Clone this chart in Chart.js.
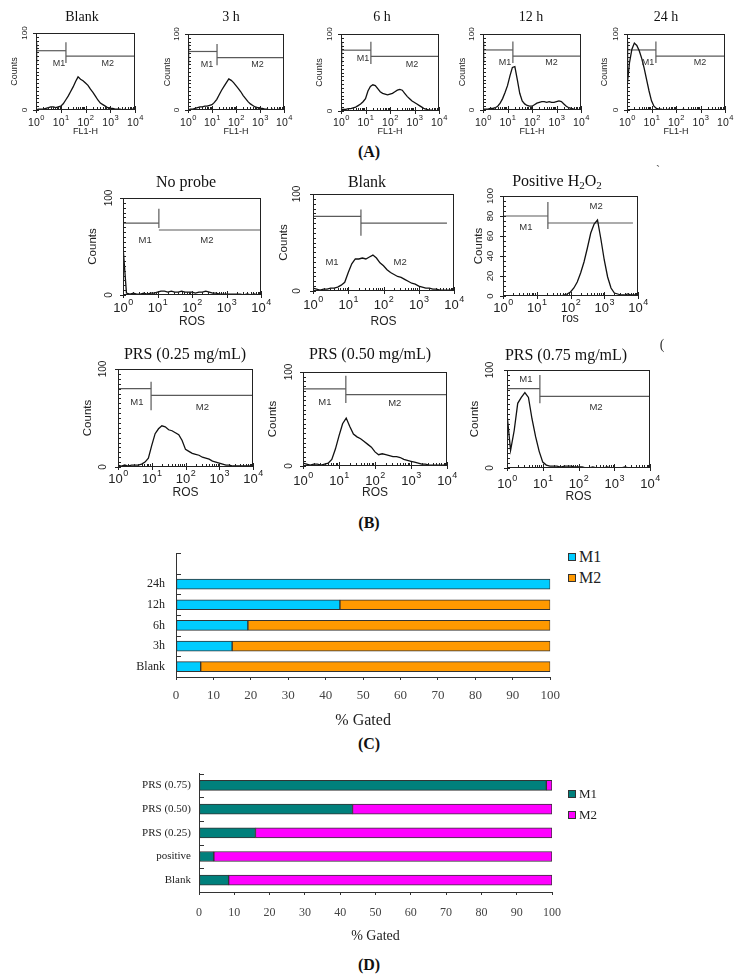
<!DOCTYPE html>
<html><head><meta charset="utf-8">
<script src="https://cdn.jsdelivr.net/npm/chart.js@4.4.1/dist/chart.umd.min.js"></script>
<style>
html,body{margin:0;padding:0;background:#fff;}
#root{position:relative;width:739px;height:979px;overflow:hidden;background:#fff;}
canvas{position:absolute;}
.t{position:absolute;transform:translate(-50%,-50%);white-space:nowrap;font-family:"Liberation Serif","Times New Roman",serif;color:#111;line-height:1;}
.leg{position:absolute;display:flex;align-items:center;font-family:"Liberation Serif","Times New Roman",serif;color:#222;white-space:nowrap;}
.leg .sw{display:inline-block;width:6px;height:6px;border:1px solid #333;margin-right:3px;}
</style></head><body><div id="root"></div>
<script>
// ---------------- DATA ----------------
// log10 channel positions (decades) at which the histograms were read
const DECADES = [0,0.1,0.2,0.3,0.4,0.5,0.6,0.7,0.8,0.9,1.0,1.1,1.2,1.3,1.4,1.5,1.6,1.7,1.8,1.9,2.0,2.1,2.2,2.3,2.4,2.5,2.6,2.7,2.8,2.9,3.0,3.1,3.2,3.3,3.4,3.5,3.6,3.7,3.8,3.9,4.0];
const X_TICK_EXPONENTS = [0,1,2,3,4];

// Panel A histograms (counts)
const A_BLANK = [0,1,1,1,2,3,4,4,3,4, 5,8,13,18,24,30,37,43,40,38, 35,32,27,23,18,13,9,7,5,3, 2,2,1,1,1,0,1,0,0,1,0];
const A_3H    = [0,1,1,2,3,4,4,5,5,6, 7,10,14,20,26,31,36,41,39,36, 32,28,24,19,15,11,8,6,4,3, 2,2,1,1,0,1,0,0,1,0,0];
const A_6H    = [2,2,2,3,3,4,5,7,9,12, 16,26,32,34,33,29,25,23,22,21, 22,23,25,27,28,27,23,19,16,13, 11,9,7,5,3,2,1,1,0,0,0];
const A_12H   = [1,1,1,2,2,3,5,9,15,23, 32,45,56,57,40,22,12,8,6,5, 5,7,9,10,11,11,10,11,10,10, 11,12,11,8,5,3,2,1,0,0,0];
const A_24H   = [30,62,80,88,85,78,68,55,40,25, 12,5,2,1,1,0,0,1,0,0, 0,0,0,1,0,0,0,0,0,0, 0,0,0,0,0,0,0,0,0,0,0];

// Panel B histograms (counts)
const B_NOPROBE = [50,2,1,2,1,1,2,1,2,2, 3,4,4,3,4,3,3,4,3,3, 3,2,3,3,4,3,2,2,1,1, 1,1,1,1,1,0,1,0,1,0,1];
const B_BLANK   = [3,2,1,2,2,3,3,4,6,9, 19,28,33,33,34,33,35,37,34,29, 26,22,19,17,15,14,12,10,8,7, 5,4,3,3,2,2,1,1,1,1,2];
const B_POS     = [0,0,0,0,0,0,0,0,0,0, 0,0,0,0,0,0,0,0,1,2, 4,8,14,23,34,48,63,72,76,57, 36,19,8,3,2,1,1,2,1,1,0];
const B_PRS025  = [2,1,2,1,2,2,2,3,5,9, 22,34,39,42,41,38,37,35,33,27, 18,16,14,13,12,10,9,8,6,5, 4,3,2,2,1,1,1,1,1,1,2];
const B_PRS050  = [3,2,1,2,2,1,2,3,7,18, 32,45,51,42,34,31,29,26,23,20, 15,12,13,12,11,10,10,9,7,6, 5,4,3,2,2,1,1,1,1,1,2];
const B_PRS075  = [55,18,38,66,72,77,72,50,32,17, 6,3,2,2,2,1,2,2,2,1, 1,1,0,0,1,0,0,0,1,0, 0,0,0,1,0,0,0,0,0,0,1];

// M1 / M2 gates: boundary (decade), M1 level, M2 level, marker top/bottom (counts), M2 end (decade), label anchors [decade, counts]
const GATE_A_BLANK = {at:1.21, m1:77, m2:70, top:88, bot:61, end:4, lab1:[0.93,61], lab2:[2.9,61], cap:true};
const GATE_A_3H    = {at:1.21, m1:77, m2:69, top:87, bot:59, end:4, lab1:[0.79,60], lab2:[2.9,60], cap:true};
const GATE_A_6H    = {at:1.22, m1:79, m2:71, top:90, bot:61, end:4, lab1:[0.9,68], lab2:[2.9,61], cap:true};
const GATE_A_12H   = {at:1.22, m1:79, m2:71, top:90, bot:62, end:4, lab1:[0.9,62], lab2:[2.8,62], cap:true};
const GATE_A_24H   = {at:1.18, m1:79, m2:71, top:90, bot:62, end:4, lab1:[0.86,62], lab2:[2.98,62], cap:true};
const GATE_B_NOPROBE = {at:1.04, m1:74, m2:67, top:89, bot:69, end:4, lab1:[0.64,56], lab2:[2.43,56]};
const GATE_B_BLANK   = {at:1.36, m1:77, m2:70, top:84, bot:57, end:3.8, lab1:[0.54,30], lab2:[2.47,30]};
const GATE_B_POS     = {at:1.33, m1:80, m2:73, top:94, bot:67, end:3.85, lab1:[0.68,69], lab2:[2.76,90]};
const GATE_B_PRS025  = {at:0.98, m1:80, m2:73, top:87, bot:58, end:4, lab1:[0.56,66], lab2:[2.5,61]};
const GATE_B_PRS050  = {at:1.19, m1:82, m2:76, top:96, bot:67, end:4, lab1:[0.61,68], lab2:[2.55,67]};
const GATE_B_PRS075  = {at:0.92, m1:81, m2:73, top:95, bot:66, end:4, lab1:[0.53,90], lab2:[2.49,62]};

// Panel C / D stacked bars (% gated)
const C_CATEGORIES = ['', '24h', '12h', '6h', '3h', 'Blank'];
const C_M1 = [null, 100, 43.8, 19.2, 15.0, 6.6];
const C_M2 = [null, 0, 56.2, 80.8, 85.0, 93.4];
const D_CATEGORIES = ['PRS (0.75)', 'PRS (0.50)', 'PRS (0.25)', 'positive', 'Blank'];
const D_M1 = [98.4, 43.5, 16.0, 4.2, 8.4];
const D_M2 = [1.6, 56.5, 84.0, 95.8, 91.6];
const SERIES_NAMES = ['M1', 'M2'];

// ---------------- RENDER ----------------
const SANS = '"Liberation Sans", Arial, Helvetica, sans-serif';
const SERIF = '"Liberation Serif", "Times New Roman", serif';
const root = document.getElementById('root');

function addText(html, x, y, css) {
  const d = document.createElement('div');
  d.className = 't';
  d.innerHTML = html;
  d.style.left = x + 'px'; d.style.top = y + 'px';
  if (css) d.style.cssText += css;
  root.appendChild(d);
}
function makeCanvas(rect, m) {
  const c = document.createElement('canvas');
  const w = Math.round(rect[2] - rect[0] + m.left + m.right);
  const h = Math.round(rect[3] - rect[1] + m.top + m.bottom);
  c.width = w; c.height = h;
  c.style.width = w + 'px'; c.style.height = h + 'px';
  c.style.left = (rect[0] - m.left) + 'px';
  c.style.top = (rect[1] - m.top) + 'px';
  root.appendChild(c);
  return c;
}
const P10 = d => Math.pow(10, d);

function histDecor(s) {
  return {
    id: 'histDecor',
    afterDatasetsDraw(chart) {
      const {ctx, chartArea: a, scales: {x, y}} = chart;
      const st = s.style;
      ctx.save();
      ctx.strokeStyle = '#222'; ctx.lineWidth = 1;
      const L = Math.round(a.left), T = Math.round(a.top), R = Math.round(a.right), B = Math.round(a.bottom);
      ctx.strokeRect(L + 0.5, T + 0.5, R - L - 1, B - T - 1);
      ctx.beginPath();
      // x minor ticks (inside)
      for (let k = 0; k < 4; k++) for (let j = 2; j <= 9; j++) {
        const px = Math.round(x.getPixelForValue(j * P10(k))) + 0.5;
        ctx.moveTo(px, B - 3); ctx.lineTo(px, B);
      }
      X_TICK_EXPONENTS.forEach(k => {
        const px = Math.round(x.getPixelForValue(P10(k))) + 0.5;
        ctx.moveTo(px, B - 4); ctx.lineTo(px, B + 3);
      });
      // y ticks
      for (let v = 0; v <= 100; v += 5) {
        const py = Math.round(y.getPixelForValue(v)) + 0.5;
        const major = s.yLabels.indexOf(v) >= 0;
        ctx.moveTo(major ? L - 3 : L, py); ctx.lineTo(L + 3, py);
      }
      ctx.stroke();
      ctx.fillStyle = '#222';
      // x tick labels 10^k
      X_TICK_EXPONENTS.forEach(k => {
        const cx = x.getPixelForValue(P10(k));
        const cy = B + s.xLabOff;
        ctx.font = st.tick + 'px ' + SANS;
        const w1 = ctx.measureText('10').width;
        ctx.font = st.exp + 'px ' + SANS;
        const e = String(k);
        const w2 = ctx.measureText(e).width;
        const x0 = cx - (w1 + w2) / 2;
        ctx.textAlign = 'left'; ctx.textBaseline = 'middle';
        ctx.font = st.tick + 'px ' + SANS;
        ctx.fillText('10', x0, cy);
        ctx.font = st.exp + 'px ' + SANS;
        ctx.fillText(e, x0 + w1 + 0.5, cy - st.tick * 0.45);
      });
      // y tick labels (rotated)
      ctx.font = (s.ytick || st.ytick) + 'px ' + SANS;
      ctx.textAlign = 'center'; ctx.textBaseline = 'middle';
      s.yLabels.forEach(v => {
        ctx.save();
        ctx.translate(L - s.yLabOff, y.getPixelForValue(v));
        ctx.rotate(-Math.PI / 2);
        ctx.fillText(String(v), 0, 0);
        ctx.restore();
      });
      // gate labels
      const g = s.gate;
      ctx.fillStyle = '#333';
      ctx.font = st.gate + 'px ' + SANS;
      ctx.fillText('M1', x.getPixelForValue(P10(g.lab1[0])), y.getPixelForValue(g.lab1[1]));
      ctx.fillText('M2', x.getPixelForValue(P10(g.lab2[0])), y.getPixelForValue(g.lab2[1]));
      ctx.restore();
    }
  };
}

function histogram(s) {
  const st = s.style;
  const lhY = st.counts * 1.2, lhX = st.xt * 1.2;
  const m = {left: Math.round(s.yTitleOff + lhY / 2), top: 14, right: 14, bottom: Math.round(s.xTitleOff + lhX / 2)};
  const canvas = makeCanvas(s.rect, m);
  const pts = DECADES.map((d, i) => ({x: P10(d), y: s.values[i]}));
  const g = s.gate;
  const gates = [
    [{x: P10(0), y: g.m1}, {x: P10(g.at), y: g.m1}],
    [{x: P10(g.at), y: g.top}, {x: P10(g.at), y: g.bot}],
    [{x: P10(g.at), y: g.m2}, {x: P10(g.end), y: g.m2}]
  ];
  if (g.cap) gates.push([{x: P10(0.03), y: g.top}, {x: P10(0.03), y: g.bot}]);
  const datasets = [{data: pts, borderColor: '#111', borderWidth: 1.3, pointRadius: 0, tension: 0, fill: false}]
    .concat(gates.map(d => ({data: d, borderColor: '#5a5a5a', borderWidth: 1.2, pointRadius: 0, tension: 0, fill: false})));
  new Chart(canvas, {
    type: 'line',
    data: {datasets},
    options: {
      responsive: false, animation: false, devicePixelRatio: 1, events: [],
      layout: {padding: {left: 0, top: m.top, right: m.right, bottom: 0}},
      plugins: {legend: {display: false}, tooltip: {enabled: false}},
      scales: {
        x: {type: 'logarithmic', min: 1, max: 10000,
            grid: {display: false, drawTicks: false}, border: {display: false}, ticks: {display: false},
            title: {display: true, text: s.xTitle, color: '#222', font: {family: SANS, size: st.xt}, padding: 0},
            afterFit: sc => { sc.height = m.bottom; }},
        y: {type: 'linear', min: 0, max: 100,
            grid: {display: false, drawTicks: false}, border: {display: false}, ticks: {display: false, stepSize: 5},
            title: {display: true, text: 'Counts', color: '#222', font: {family: SANS, size: st.counts}, padding: 0},
            afterFit: sc => { sc.width = m.left; }}
      }
    },
    plugins: [histDecor(s)]
  });
}

const barTicks = {
  id: 'barTicks',
  afterDraw(chart) {
    const {ctx, scales: {y}} = chart;
    const n = chart.data.labels.length;
    const slot = (y.bottom - y.top) / n;
    ctx.save();
    ctx.strokeStyle = '#333'; ctx.lineWidth = 1;
    ctx.beginPath();
    for (let i = 0; i < n; i++) {
      const py = Math.round(y.top + i * slot) + 0.5;
      ctx.moveTo(y.right, py); ctx.lineTo(y.right + 5, py);
    }
    ctx.stroke();
    ctx.restore();
  }
};

function stackedBar(s) {
  const m = {left: 80, top: 4, right: 14, bottom: s.xh};
  const canvas = makeCanvas(s.rect, m);
  new Chart(canvas, {
    type: 'bar',
    data: {labels: s.labels, datasets: s.series.map((d, i) => ({
      label: SERIES_NAMES[i], data: d, backgroundColor: s.colors[i], borderColor: '#333',
      borderWidth: 1, borderSkipped: false, barThickness: 10}))},
    options: {
      indexAxis: 'y', responsive: false, animation: false, devicePixelRatio: 1, events: [],
      layout: {padding: {left: 0, top: m.top, right: m.right, bottom: 0}},
      plugins: {legend: {display: false}, tooltip: {enabled: false}},
      scales: {
        x: {stacked: true, min: 0, max: 100,
            ticks: {stepSize: 10, padding: s.xPad, color: '#444', font: {family: SERIF, size: s.xFont}},
            grid: {drawOnChartArea: false, drawTicks: true, tickLength: 3, color: '#333'},
            border: {display: true, color: '#333', width: 1},
            title: {display: true, text: '% Gated', color: '#222', font: {family: SERIF, size: s.titleFont}, padding: 0},
            afterFit: sc => { sc.height = m.bottom; }},
        y: {stacked: true,
            ticks: {padding: s.yPad, color: '#222', font: {family: SERIF, size: s.yFont}},
            grid: {display: false, drawTicks: false},
            border: {display: true, color: '#333', width: 1},
            afterFit: sc => { sc.width = m.left; }}
      }
    },
    plugins: [barTicks]
  });
  // legend
  SERIES_NAMES.forEach((name, i) => {
    const h = Math.round(s.legFont * 1.2);
    const d = document.createElement('div');
    d.className = 'leg';
    d.style.left = s.legX + 'px';
    d.style.top = Math.round(s.legY[i] - h / 2) + 'px';
    d.style.height = h + 'px';
    d.style.fontSize = s.legFont + 'px';
    d.innerHTML = '<span class="sw" style="background:' + s.colors[i] + '"></span>' + name;
    root.appendChild(d);
  });
}

// ---------------- LAYOUT ----------------
const STYLE_A = {counts: 9, xt: 9, tick: 10.5, exp: 7.5, ytick: 8, gate: 9};
const STYLE_B = {counts: 11.5, xt: 12, tick: 13, exp: 9, ytick: 10, gate: 9.5};
const HISTS = [
  {values: A_BLANK, gate: GATE_A_BLANK, rect: [36,33,135,110], style: STYLE_A, xTitle: 'FL1-H', yTitleOff: 22, xTitleOff: 22, xLabOff: 13, yLabOff: 11, yLabels: [0,100]},
  {values: A_3H,    gate: GATE_A_3H,    rect: [188,34,284,110], style: STYLE_A, xTitle: 'FL1-H', yTitleOff: 21, xTitleOff: 22, xLabOff: 13, yLabOff: 11, yLabels: [0,100]},
  {values: A_6H,    gate: GATE_A_6H,    rect: [341,34,439,111], style: STYLE_A, xTitle: 'FL1-H', yTitleOff: 22, xTitleOff: 21, xLabOff: 12, yLabOff: 11, yLabels: [0,100]},
  {values: A_12H,   gate: GATE_A_12H,   rect: [483,34,581,110], style: STYLE_A, xTitle: 'FL1-H', yTitleOff: 21, xTitleOff: 22, xLabOff: 13, yLabOff: 11, yLabels: [0,100]},
  {values: A_24H,   gate: GATE_A_24H,   rect: [627,34,725,110], style: STYLE_A, xTitle: 'FL1-H', yTitleOff: 23, xTitleOff: 22, xLabOff: 13, yLabOff: 11, yLabels: [0,100]},
  {values: B_NOPROBE, gate: GATE_B_NOPROBE, rect: [123,198,261,295], style: STYLE_B, xTitle: 'ROS', yTitleOff: 30, xTitleOff: 27, xLabOff: 13, yLabOff: 14, yLabels: [0,100]},
  {values: B_BLANK,   gate: GATE_B_BLANK,   rect: [313,194,454,291], style: STYLE_B, xTitle: 'ROS', yTitleOff: 29, xTitleOff: 31, xLabOff: 14, yLabOff: 16, yLabels: [0,100]},
  {values: B_POS,     gate: GATE_B_POS,     rect: [503,196,638,296], style: STYLE_B, xTitle: 'ros', yTitleOff: 24, xTitleOff: 23, xLabOff: 12, yLabOff: 13, yLabels: [0,20,40,60,80,100], ytick: 9.5},
  {values: B_PRS025,  gate: GATE_B_PRS025,  rect: [118,369,253,467], style: STYLE_B, xTitle: 'ROS', yTitleOff: 30, xTitleOff: 26, xLabOff: 12, yLabOff: 15, yLabels: [0,100]},
  {values: B_PRS050,  gate: GATE_B_PRS050,  rect: [303,372,447,466], style: STYLE_B, xTitle: 'ROS', yTitleOff: 30, xTitleOff: 27, xLabOff: 15, yLabOff: 14, yLabels: [0,100]},
  {values: B_PRS075,  gate: GATE_B_PRS075,  rect: [507,370,650,468], style: STYLE_B, xTitle: 'ROS', yTitleOff: 32, xTitleOff: 29, xLabOff: 16, yLabOff: 17, yLabels: [0,100]}
];
HISTS.forEach(histogram);

stackedBar({rect: [176,539,554,677], labels: C_CATEGORIES, series: [C_M1, C_M2], colors: ['#00CCFF', '#FF9900'],
  xh: 53, xPad: 8, xFont: 13, titleFont: 16, yPad: 11, yFont: 12, legX: 568, legY: [556, 577], legFont: 16});
stackedBar({rect: [199,763,558,892], labels: D_CATEGORIES, series: [D_M1, D_M2], colors: ['#00807C', '#FF00FF'],
  xh: 53, xPad: 11, xFont: 12, titleFont: 14, yPad: 8, yFont: 11, legX: 568, legY: [794, 815], legFont: 13});

// titles
const TA = 'font-size:14px;';
addText('Blank', 82, 17, TA); addText('3 h', 231, 17, TA); addText('6 h', 382, 17, TA);
addText('12 h', 531, 17, TA); addText('24 h', 666, 17, TA);
const TB = 'font-size:16px;';
addText('No probe', 186, 182, TB); addText('Blank', 367, 182, TB);
addText('Positive H<sub style="font-size:11px;vertical-align:-3px">2</sub>O<sub style="font-size:11px;vertical-align:-3px">2</sub>', 557, 182, TB);
addText('PRS (0.25 mg/mL)', 185, 354, TB); addText('PRS (0.50 mg/mL)', 370, 354, TB); addText('PRS (0.75 mg/mL)', 566, 355, TB);
const TL = 'font-size:16px;font-weight:bold;';
addText('(A)', 369, 152, TL); addText('(B)', 369, 523, TL); addText('(C)', 369, 744, TL); addText('(D)', 369, 965, TL);
addText('`', 658, 170, 'font-size:12px;color:#555;'); addText('(', 662, 345, 'font-size:14px;color:#333;');
</script></body></html>
